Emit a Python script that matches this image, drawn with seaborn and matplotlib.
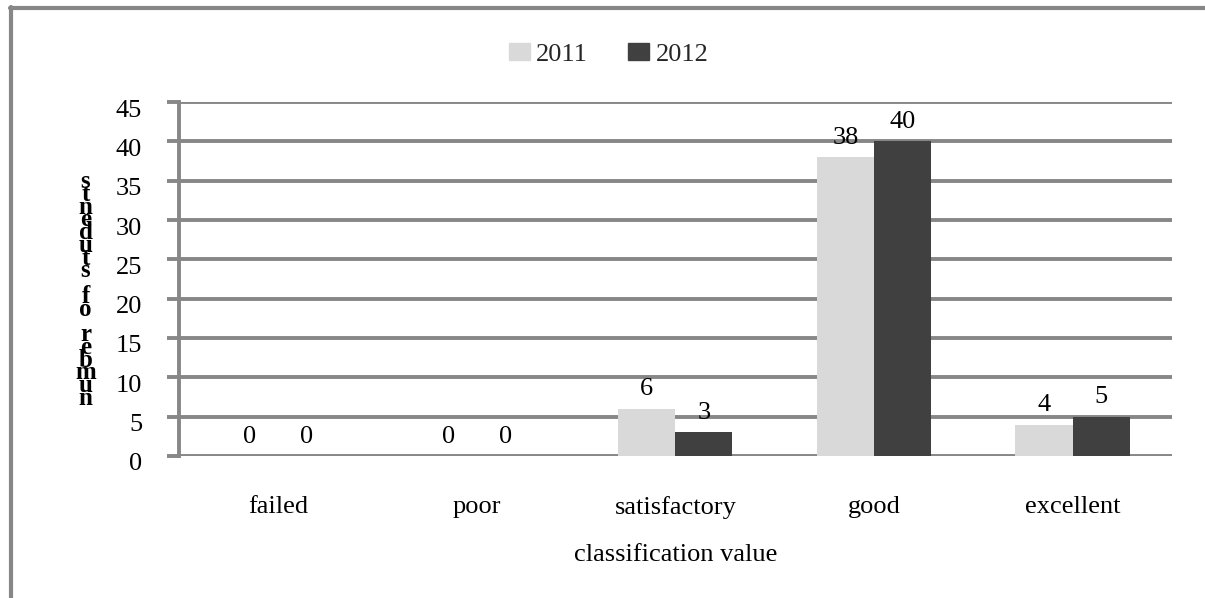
import matplotlib
matplotlib.use("Agg")
import matplotlib.pyplot as plt
from matplotlib.lines import Line2D
from matplotlib.transforms import ScaledTranslation
import seaborn as sns
import pandas as pd

# Data
categories = ["failed", "poor", "satisfactory", "good", "excellent"]
years = ["2011", "2012"]
values_2011 = [0, 0, 6, 38, 4]
values_2012 = [0, 0, 3, 40, 5]
y_ticks = [0, 5, 10, 15, 20, 25, 30, 35, 40, 45]

df = pd.DataFrame({
    "classification": categories * 2,
    "year": [years[0]] * len(categories) + [years[1]] * len(categories),
    "students": values_2011 + values_2012,
})

sns.set_theme(style="white")
plt.rcParams["font.family"] = ["Liberation Serif", "DejaVu Serif"]

FS = 19
GRID = "#878787"
fig = plt.figure(figsize=(12.05, 5.98), dpi=100)
ax = fig.add_axes([0.1485, 0.2375, 0.824, 0.5919])

sns.barplot(data=df, x="classification", y="students", hue="year",
            order=categories, hue_order=years,
            palette=["#d9d9d9", "#404040"], width=0.575,
            saturation=1, linewidth=0, ax=ax, legend=False)

ax.set_ylim(0, 45)
ax.set_yticks(y_ticks)
ax.set_xlim(-0.5, len(categories) - 0.5)
ax.yaxis.grid(True, color=GRID, linewidth=2.8)
ax.set_axisbelow(True)
for side in ["top", "right", "bottom"]:
    ax.spines[side].set_visible(False)
ax.spines["left"].set_color(GRID)
ax.spines["left"].set_linewidth(2.8)
ax.tick_params(axis="y", which="major", left=True, length=8.5, width=2.8,
               color=GRID, labelsize=FS, pad=18, labelcolor="black")
ax.tick_params(axis="x", bottom=False, labelsize=FS, pad=23, labelcolor="black")

# y tick labels sit slightly below their gridlines
shift = ScaledTranslation(0, -6 / 100, fig.dpi_scale_trans)
for lbl in ax.get_yticklabels():
    lbl.set_transform(lbl.get_transform() + shift)

for container in ax.containers:
    ax.bar_label(container, fmt="%d", fontsize=FS, padding=6, color="black")

ax.set_xlabel("classification value", fontsize=FS, labelpad=18, color="black")
ax.set_ylabel("")

# y-axis title rendered as stacked reversed letters
ylabel = "number of students"
fig.text(0.071, 0.515, "\n".join(reversed(ylabel)), ha="center", va="center",
         fontsize=18, fontweight="bold", linespacing=0.43, color="black")

# Legend at top
handles = [plt.Rectangle((0, 0), 1, 1, color=c) for c in ["#d9d9d9", "#404040"]]
fig.legend(handles, years, loc="center", bbox_to_anchor=(0.505, 0.909), ncol=2,
           frameon=False, fontsize=FS, handlelength=0.8, handleheight=0.65,
           handletextpad=0.25, columnspacing=1.5)

# Chart frame (left and top edges)
fig.add_artist(Line2D([0.0095, 0.0095], [0, 0.988], transform=fig.transFigure,
                      color=GRID, linewidth=3))
fig.add_artist(Line2D([0.0083, 1.0], [0.986, 0.986], transform=fig.transFigure,
                      color=GRID, linewidth=3))

fig.savefig("out.png", dpi=100)
